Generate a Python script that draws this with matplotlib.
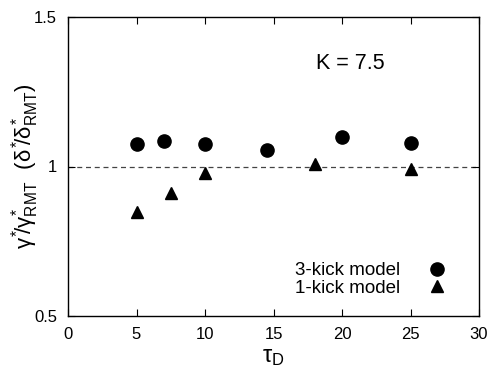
import numpy as np
import matplotlib.pyplot as plt

plt.rcParams['font.family'] = ['Liberation Sans', 'DejaVu Sans']
plt.rcParams['mathtext.fontset'] = 'custom'
plt.rcParams['mathtext.rm'] = 'Liberation Sans'
plt.rcParams['mathtext.it'] = 'Liberation Sans'

# 3-kick model
tau_3kick = [5, 7, 10, 14.5, 20, 25]
ratio_3kick = [1.076, 1.086, 1.075, 1.056, 1.098, 1.080]

# 1-kick model
tau_1kick = [5, 7.5, 10, 18, 25]
ratio_1kick = [0.848, 0.913, 0.978, 1.007, 0.992]

fig = plt.figure(figsize=(4.96, 3.71), dpi=100)
ax = fig.add_axes([68 / 496, 1 - 316 / 371, 411 / 496, 299 / 371])

ax.axhline(1.0, color='#444444', lw=0.9, ls=(0, (4, 3)), zorder=1)
ax.plot(tau_3kick, ratio_3kick, 'o', color='black', ms=9.5, label='3-kick model', zorder=3)
ax.plot(tau_1kick, ratio_1kick, '^', color='black', ms=8, label='1-kick model', zorder=3)

ax.set_xlim(0, 30)
ax.set_ylim(0.5, 1.5)
ax.set_xticks([0, 5, 10, 15, 20, 25, 30])
ax.set_yticks([0.5, 1, 1.5])
ax.set_yticklabels(['0.5', '1', '1.5'])
ax.tick_params(direction='in', top=True, right=True, length=5, labelsize=12, pad=8)
for s in ax.spines.values():
    s.set_linewidth(1.0)

ax.set_xlabel(r'$\tau_{\rm D}$', fontsize=17, labelpad=3)
ax.set_ylabel(r'$\gamma^{*}\!/\gamma^{*}_{\rm RMT}$  $(\delta^{*}\!/\delta^{*}_{\rm RMT})$',
              fontsize=16, labelpad=-5)

ax.text(20.6, 1.346, 'K = 7.5', fontsize=15.5, ha='center', va='center')

ax.legend(loc='lower right', bbox_to_anchor=(0.94, 0.04), frameon=False, markerfirst=False,
          fontsize=13.5, handletextpad=1.5, labelspacing=0.0, handlelength=1.0,
          borderaxespad=0)

fig.savefig('out.png', dpi=100)
